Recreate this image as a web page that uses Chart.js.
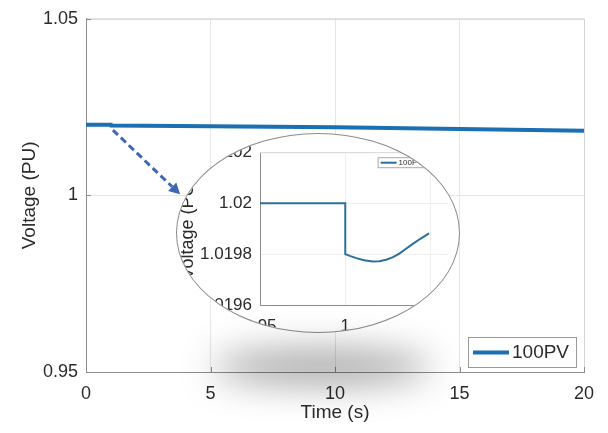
<!DOCTYPE html>
<html><head><meta charset="utf-8">
<script src="https://cdn.jsdelivr.net/npm/chart.js@4.4.0/dist/chart.umd.min.js"></script>
<style>
html,body{margin:0;padding:0;background:#fff;}
#wrap{position:relative;width:608px;height:433px;overflow:hidden;}
#main{position:absolute;left:0;top:0;}
#insetClip{position:absolute;left:177px;top:134px;width:282px;height:198px;clip-path:ellipse(141px 99px at 141px 99px);background:#fff;}
#insetBorder{position:absolute;left:176px;top:133px;width:282px;height:198px;border:1px solid #8c8c8c;border-radius:50%;pointer-events:none;}
#shadow{position:absolute;left:212px;top:350px;width:220px;height:34px;border-radius:50%;background:rgba(0,0,0,0.36);filter:blur(18px);pointer-events:none;}
</style></head>
<body>
<div id="wrap">
  <canvas id="main" width="608" height="433"></canvas>
  <div id="insetClip"><canvas id="inset" width="282" height="198"></canvas></div>
  <div id="insetBorder"></div>
  <div id="shadow"></div>
</div>
<script>
// ---- data ----
const seriesLabel = '100PV';
const mainTime    = [0, 1, 1.01, 5, 10, 15, 20];
const mainVoltage = [1.0200, 1.0200, 1.0198, 1.0196, 1.0193, 1.0188, 1.0183];
const mainXTicks  = [0, 5, 10, 15, 20];
const mainYTicks  = [0.95, 1, 1.05];

const zoomTime    = [0.95, 1.0, 1.0, 1.003, 1.0065, 1.011, 1.0162, 1.020, 1.024, 1.028, 1.0317, 1.035, 1.0394, 1.044, 1.0491];
const zoomVoltage = [1.0200, 1.0200, 1.01980, 1.019792, 1.019784, 1.019776, 1.019771, 1.019772, 1.019778, 1.019788, 1.019802, 1.019818, 1.019839, 1.019860, 1.019881];
const zoomXTicks  = [0.95, 1, 1.05];
const zoomYTicks  = [1.0196, 1.0198, 1.02, 1.0202];

const arrowFrom = {x: 1.08, y: 1.0185};
const arrowTo   = {x: 3.78, y: 1.0003};

const FONT = "'Liberation Sans', Arial, sans-serif";
const TXT = '#2b2b2b';

function toPts(xs, ys){ return xs.map((x,i)=>({x:x, y:ys[i]})); }

const mainDecor = {
  id: 'mainDecor',
  afterDraw(chart){
    const ctx = chart.ctx, ca = chart.chartArea;
    const xs = chart.scales.x, ys = chart.scales.y;
    ctx.save();
    ctx.strokeStyle = '#d4d4d4'; ctx.lineWidth = 1;
    ctx.beginPath();
    ctx.moveTo(ca.left, ca.top+0.5); ctx.lineTo(ca.right+0.5, ca.top+0.5); ctx.lineTo(ca.right+0.5, ca.bottom);
    ctx.stroke();
    ctx.strokeStyle = '#8c8c8c';
    ctx.beginPath();
    mainXTicks.forEach(v=>{ const p = Math.round(xs.getPixelForValue(v))+0.5; ctx.moveTo(p, ca.bottom); ctx.lineTo(p, ca.bottom-5); });
    mainYTicks.forEach(v=>{ const p = Math.round(ys.getPixelForValue(v))+0.5; ctx.moveTo(ca.left, p); ctx.lineTo(ca.left+5, p); });
    ctx.stroke();
    // arrow
    const x1 = xs.getPixelForValue(arrowFrom.x), y1 = ys.getPixelForValue(arrowFrom.y);
    const x2 = xs.getPixelForValue(arrowTo.x), y2 = ys.getPixelForValue(arrowTo.y);
    const ang = Math.atan2(y2-y1, x2-x1);
    const hl = 11, hw = 6;
    const bx = x2 - hl*Math.cos(ang), by = y2 - hl*Math.sin(ang);
    ctx.strokeStyle = '#3f68b3'; ctx.fillStyle = '#3f68b3';
    ctx.lineWidth = 3; ctx.setLineDash([7,4]);
    ctx.beginPath(); ctx.moveTo(x1,y1); ctx.lineTo(bx,by); ctx.stroke();
    ctx.setLineDash([]);
    ctx.beginPath();
    ctx.moveTo(x2,y2);
    ctx.lineTo(bx + hw*Math.sin(ang), by - hw*Math.cos(ang));
    ctx.lineTo(bx - hw*Math.sin(ang), by + hw*Math.cos(ang));
    ctx.closePath(); ctx.fill();
    // legend
    const bw = 108, bh = 30;
    const lx = ca.right - 8 - bw, ly = ca.bottom - 5 - bh;
    ctx.fillStyle = '#fff'; ctx.fillRect(lx, ly, bw, bh);
    ctx.strokeStyle = '#9a9a9a'; ctx.lineWidth = 1;
    ctx.strokeRect(lx+0.5, ly+0.5, bw, bh);
    const ds = chart.data.datasets[0];
    ctx.strokeStyle = ds.borderColor; ctx.lineWidth = 4;
    ctx.beginPath(); ctx.moveTo(lx+5, ly+bh/2+0.5); ctx.lineTo(lx+41, ly+bh/2+0.5); ctx.stroke();
    ctx.fillStyle = TXT; ctx.font = '19px ' + FONT; ctx.textBaseline = 'middle'; ctx.textAlign = 'left';
    ctx.fillText(ds.label, lx+44, ly+bh/2+1);
    ctx.restore();
  }
};

new Chart(document.getElementById('main'), {
  type: 'line',
  data: { datasets: [{ label: seriesLabel, data: toPts(mainTime, mainVoltage), borderColor: '#1b6fb3', borderWidth: 4, pointRadius: 0, tension: 0, fill: false }] },
  options: {
    responsive: false, animation: false,
    layout: { padding: { left: 0, right: 24, top: 16, bottom: 0 } },
    plugins: { legend: { display: false }, tooltip: { enabled: false } },
    scales: {
      x: {
        type: 'linear', min: 0, max: 20,
        afterBuildTicks: a => { a.ticks = mainXTicks.map(v=>({value:v})); },
        afterFit: a => { a.height = 61; },
        ticks: { color: TXT, font: { family: FONT, size: 18 }, padding: 11, maxRotation: 0, callback: v => String(v) },
        grid: { color: '#e6e6e6', drawTicks: false },
        border: { color: '#8c8c8c' },
        title: { display: true, text: 'Time (s)', color: TXT, font: { family: FONT, size: 19 }, padding: { top: 0, bottom: 9 } }
      },
      y: {
        min: 0.95, max: 1.05,
        afterBuildTicks: a => { a.ticks = mainYTicks.map(v=>({value:v})); },
        afterFit: a => { a.width = 86; },
        ticks: { color: TXT, font: { family: FONT, size: 18 }, padding: 8, callback: v => String(v) },
        grid: { color: '#e6e6e6', drawTicks: false },
        border: { color: '#8c8c8c' },
        title: { display: true, text: 'Voltage (PU)', color: TXT, font: { family: FONT, size: 19 }, padding: { top: 18, bottom: 0 } }
      }
    }
  },
  plugins: [mainDecor]
});

const insetDecor = {
  id: 'insetDecor',
  beforeDraw(chart){
    const ctx = chart.ctx; ctx.save(); ctx.fillStyle = '#fff'; ctx.fillRect(0,0,chart.width,chart.height); ctx.restore();
  },
  afterDraw(chart){
    const ctx = chart.ctx, ca = chart.chartArea;
    ctx.save();
    ctx.strokeStyle = '#d8d8d8'; ctx.lineWidth = 1;
    ctx.beginPath(); ctx.moveTo(ca.left, ca.top+0.5); ctx.lineTo(ca.right, ca.top+0.5); ctx.stroke();
    const bw = 64, bh = 10;
    const lx = ca.right - 6 - bw, ly = ca.top + 5;
    ctx.fillStyle = '#fff'; ctx.fillRect(lx, ly, bw, bh);
    ctx.strokeStyle = '#a8a8a8'; ctx.strokeRect(lx+0.5, ly+0.5, bw, bh);
    const ds = chart.data.datasets[0];
    ctx.strokeStyle = ds.borderColor; ctx.lineWidth = 2;
    ctx.beginPath(); ctx.moveTo(lx+3, ly+bh/2+0.5); ctx.lineTo(lx+19, ly+bh/2+0.5); ctx.stroke();
    ctx.fillStyle = TXT; ctx.font = '8px ' + FONT; ctx.textBaseline = 'middle';
    ctx.fillText(ds.label, lx+21, ly+bh/2+1);
    ctx.restore();
  }
};

new Chart(document.getElementById('inset'), {
  type: 'line',
  data: { datasets: [{ label: seriesLabel, data: toPts(zoomTime, zoomVoltage), borderColor: '#2c6f9b', borderWidth: 2, pointRadius: 0, tension: 0, fill: false }] },
  options: {
    responsive: false, animation: false,
    layout: { padding: { left: 0, right: 10, top: 16, bottom: 0 } },
    plugins: { legend: { display: false }, tooltip: { enabled: false } },
    scales: {
      x: {
        type: 'linear', min: 0.95, max: 1.06,
        afterBuildTicks: a => { a.ticks = zoomXTicks.map(v=>({value:v})); },
        afterFit: a => { a.height = 27; },
        ticks: { color: TXT, font: { family: FONT, size: 17 }, padding: 11, maxRotation: 0, callback: v => String(v) },
        grid: { color: '#eeeeee', drawTicks: false },
        border: { color: '#8c8c8c' }
      },
      y: {
        min: 1.0196, max: 1.0202,
        afterBuildTicks: a => { a.ticks = zoomYTicks.map(v=>({value:v})); },
        afterFit: a => { a.width = 83; },
        ticks: { color: TXT, font: { family: FONT, size: 17 }, padding: 8, callback: v => String(v) },
        grid: { color: '#eeeeee', drawTicks: false },
        border: { color: '#8c8c8c' },
        title: { display: true, text: 'Voltage (PU)', color: TXT, font: { family: FONT, size: 18 }, padding: { top: 0, bottom: 0 } }
      }
    }
  },
  plugins: [insetDecor]
});
</script>
</body></html>
